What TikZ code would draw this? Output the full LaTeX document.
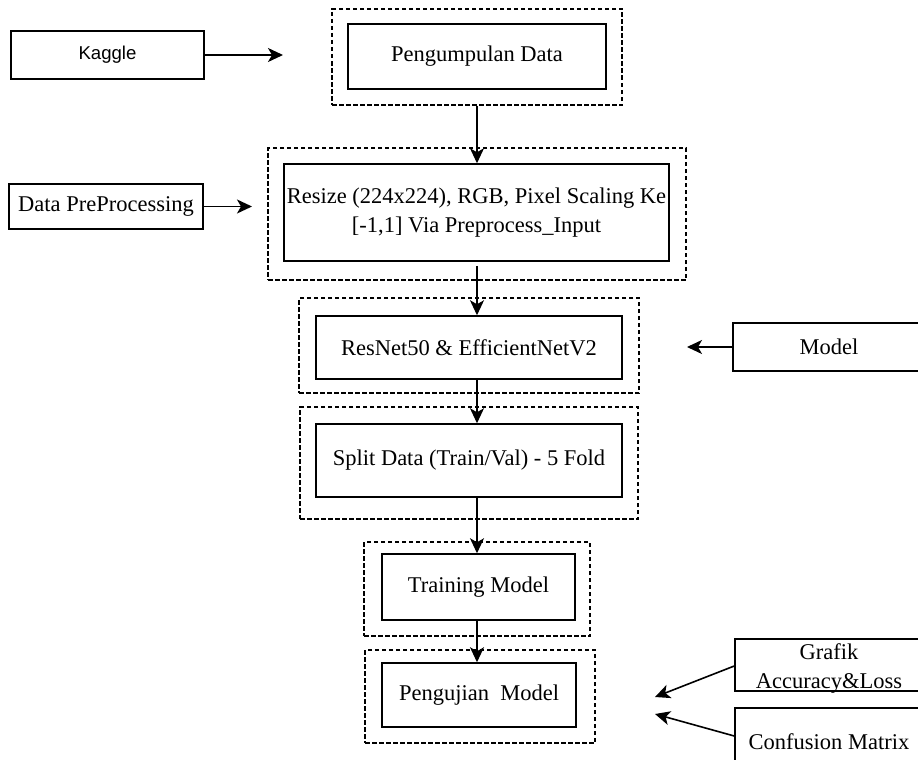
\documentclass[tikz,border=0pt]{standalone}
\usepackage{fontspec}
\setmainfont{Liberation Serif}
\newfontfamily\arialf{Liberation Sans}
\usetikzlibrary{arrows.meta}
\begin{document}
\begin{tikzpicture}[x=1pt,y=-1pt,
  box/.style={draw, line width=1.5pt, inner sep=0pt, align=center,
    font=\fontsize{22.5pt}{29pt}\selectfont},
  dbox/.style={draw, dash pattern=on 4.5pt off 2.5pt, line width=1.3pt, inner sep=0pt},
  lbl/.style={inner sep=0pt, align=center, font=\fontsize{22.5pt}{29pt}\selectfont},
  arr/.style={-{Stealth[length=15pt,width=14pt,inset=4pt]}, line width=1.6pt},
]
\useasboundingbox (0,0) rectangle (918,760);
\clip (0,0) rectangle (918,760);

% left input boxes
\node[box, minimum width=193pt, minimum height=48pt, font=\arialf\fontsize{18.6pt}{22pt}\selectfont] (kaggle) at (107.5,55) {Kaggle};
\node[box, minimum width=194pt, minimum height=45pt] (dpp) at (106,206.5) {Data PreProcessing};

% right input boxes
\node[box, minimum width=192pt, minimum height=48pt] (model) at (829,347) {Model};
\node[box, minimum width=190pt, minimum height=52pt] (grafik) at (830,665) {};
\node[lbl] (gtext) at (829,668) {Grafik\\Accuracy\&Loss};
\node[box, minimum width=190pt, minimum height=68pt] (conf) at (830,742) {};
\node[lbl] (ctext) at (829,742) {Confusion Matrix};

% dashed containers
\node[dbox, minimum width=290pt, minimum height=96pt] (d1) at (477,57) {};
\node[dbox, minimum width=418pt, minimum height=132pt] (d2) at (477,214) {};
\node[dbox, minimum width=340pt, minimum height=95pt] (d3) at (469,345.5) {};
\node[dbox, minimum width=338pt, minimum height=112pt] (d4) at (469,463) {};
\node[dbox, minimum width=226pt, minimum height=94pt] (d5) at (477,589) {};
\node[dbox, minimum width=230pt, minimum height=93pt] (d6) at (480,696.5) {};

% process boxes
\node[box, minimum width=258pt, minimum height=65pt] (in1) at (477,56.5) {Pengumpulan Data};
\node[box, minimum width=385pt, minimum height=97pt] (in2) at (476.5,212.5) {Resize (224x224), RGB, Pixel Scaling Ke\\{[}-1,1] Via Preprocess\_Input};
\node[box, minimum width=306pt, minimum height=63pt] (in3) at (469,347.5) {ResNet50 \& EfficientNetV2};
\node[box, minimum width=306pt, minimum height=73pt] (in4) at (469,460.5) {Split Data (Train/Val) - 5 Fold};
\node[box, minimum width=193pt, minimum height=66pt] (in5) at (478.5,587) {Training Model};
\node[box, minimum width=194pt, minimum height=64pt] (in6) at (479,695) {Pengujian\ \ Model};

% free arrow ends
\coordinate (xl) at (477,0);
\coordinate (kend) at (283,55);
\coordinate (pend) at (252,206.5);
\coordinate (mend) at (687,347);
\coordinate (gend) at (655,697);
\coordinate (cend) at (655,714);

% connectors
\draw[arr] (kaggle.east) -- (kend);
\draw[arr] (dpp.east) -- (pend);
\draw[arr] (model.west) -- (mend);
\draw[arr] ([yshift=-1pt]grafik.west) -- (gend);
\draw[arr] ([yshift=6pt]conf.west) -- (cend);

\draw[arr] (d1.south -| xl) -- (in2.north -| xl);
\draw[arr] ([yshift=-4pt]in2.south -| xl) -- (in3.north -| xl);
\draw[arr] (in3.south -| xl) -- (in4.north -| xl);
\draw[arr] (in4.south -| xl) -- (in5.north -| xl);
\draw[arr] (in5.south -| xl) -- (in6.north -| xl);
\end{tikzpicture}
\end{document}
